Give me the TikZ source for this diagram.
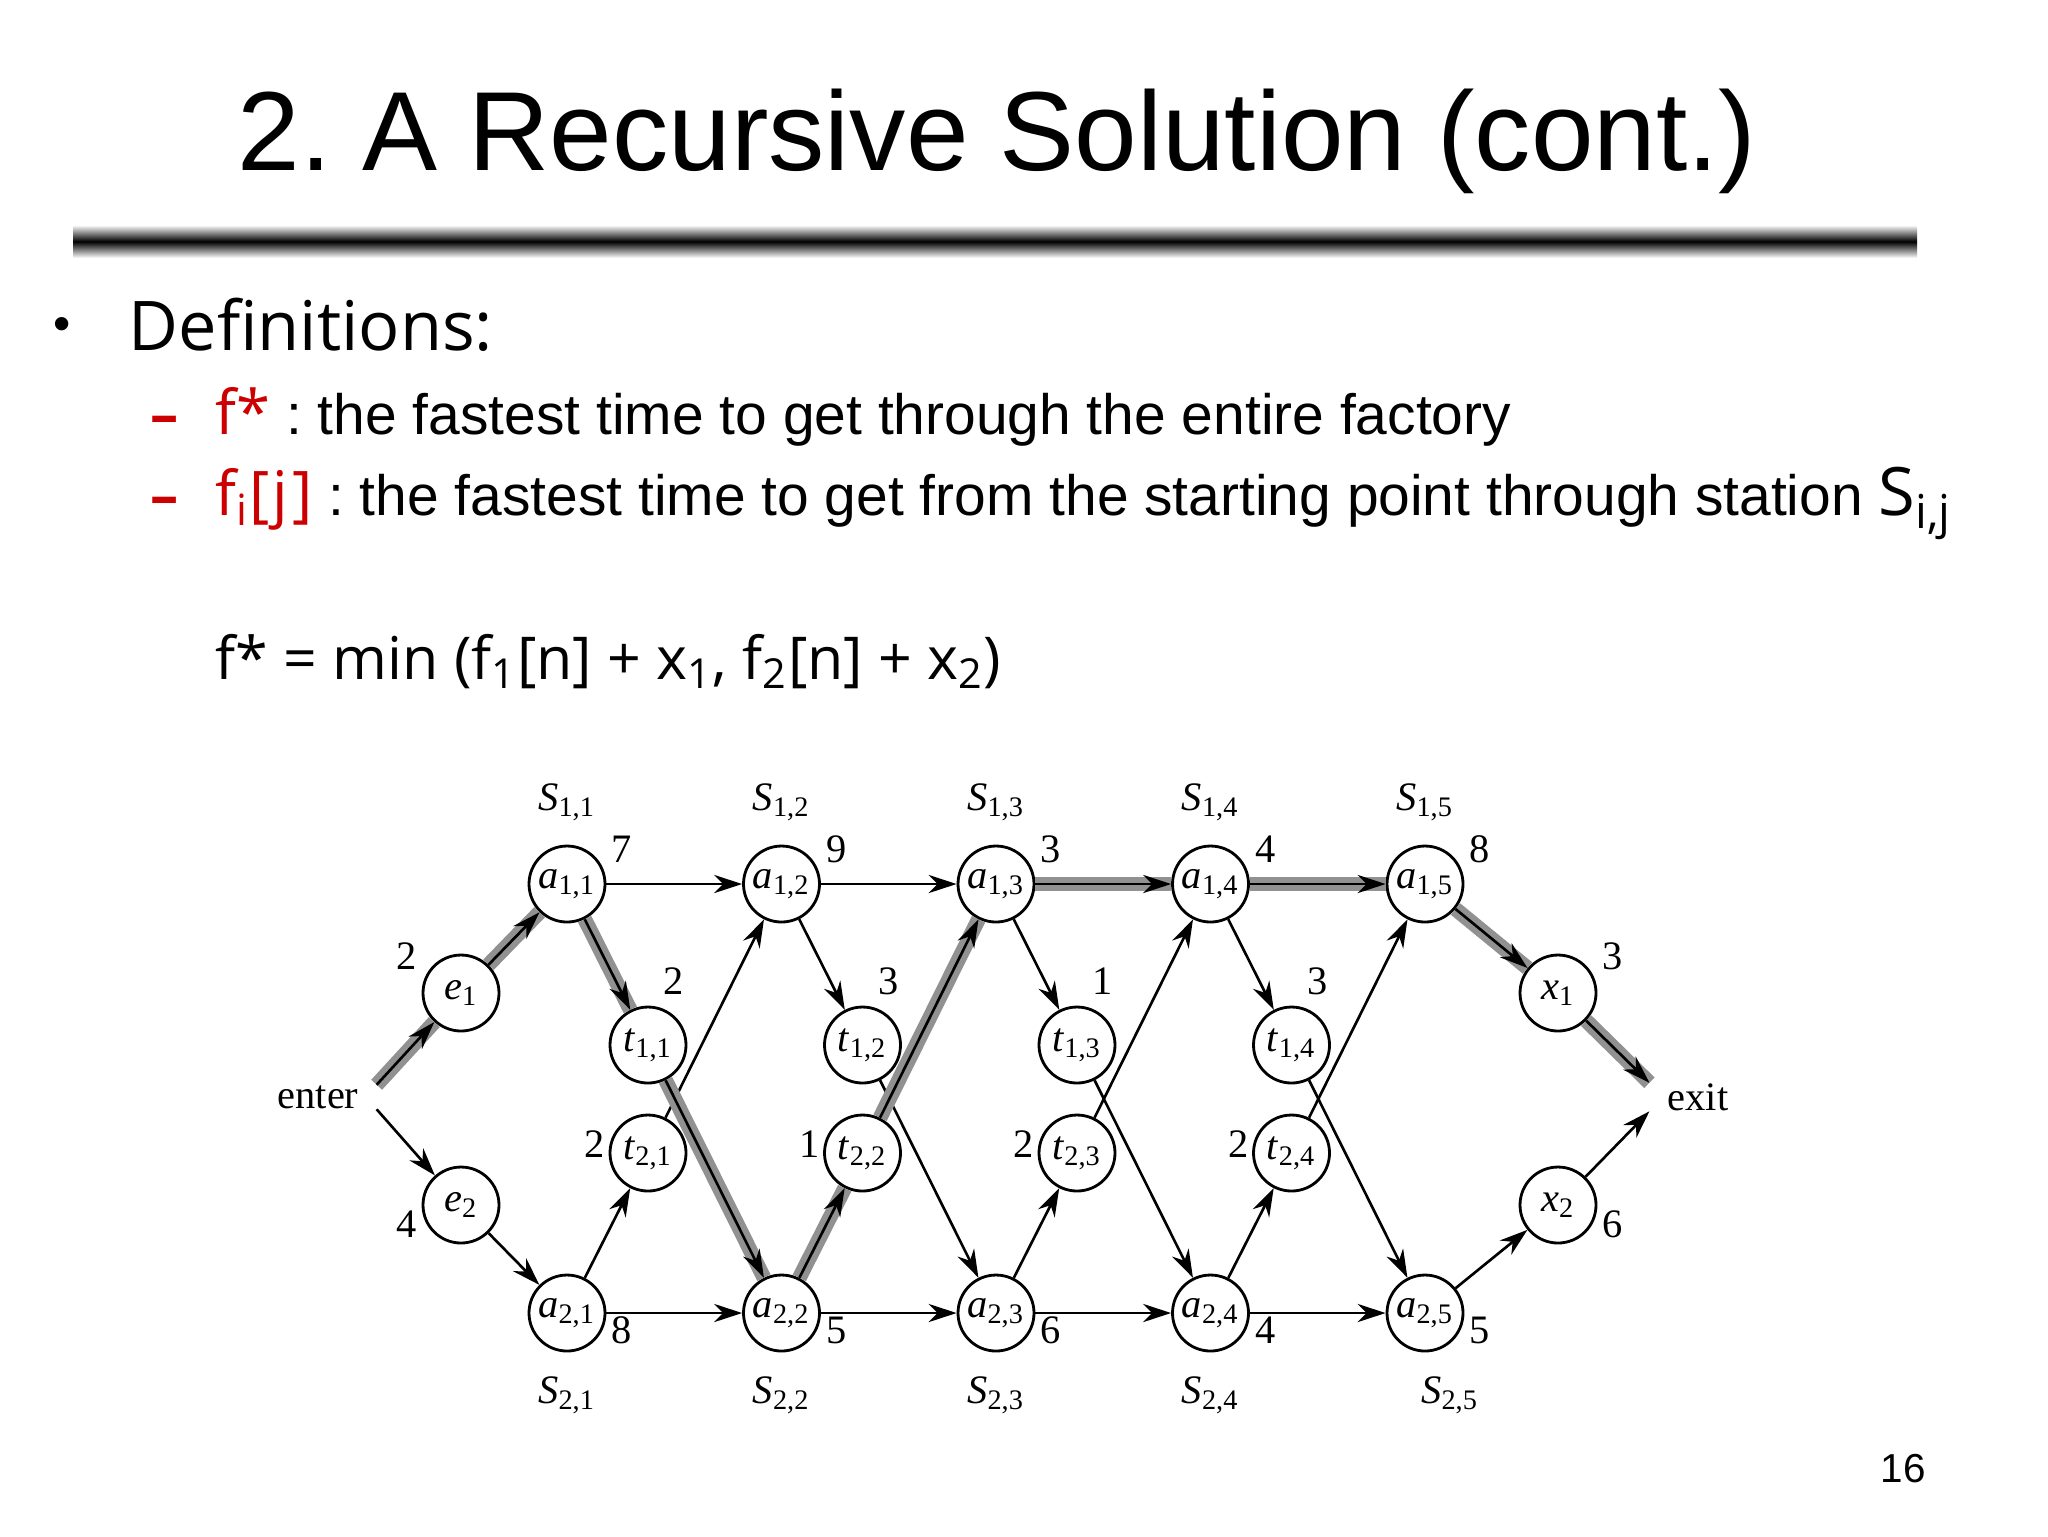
\documentclass[tikz,border=0pt]{standalone}
\usepackage{fontspec}
\setmainfont{Liberation Sans}
\newfontfamily\comic{Open Sans}
\newfontfamily\diafont{Liberation Serif}
\usetikzlibrary{arrows.meta}
\definecolor{defred}{RGB}{204,0,0}
\definecolor{pathgray}{RGB}{145,145,145}
\newcommand{\lab}[2]{\textit{#1}\textsubscript{#2}}
\frenchspacing
\tikzset{txt/.style={inner sep=0pt, anchor=base west},
         station/.style={circle, draw, line width=0.8pt, fill=white,
                         minimum size=7.6mm, inner sep=0pt,
                         font=\diafont\fontsize{11.5}{13}\selectfont},
         lbl/.style={inner sep=0pt, font=\diafont\fontsize{11.5}{13}\selectfont},
         cost/.style={lbl},
         arr/.style={-{Stealth[length=8pt,width=5.2pt,inset=2.6pt]}, line width=0.75pt},
         fast/.style={arr, preaction={draw=pathgray, line width=4.2pt, arrows=-}}}

\begin{document}
\begin{tikzpicture}[x=0.1mm,y=-0.1mm]
\useasboundingbox (0,0) rectangle (2048,1536);
\fill[white] (0,0) rectangle (2048,1536);
% Titel und Balken
\node[anchor=base, inner sep=0pt, font=\fontsize{32}{38}\selectfont] (title) at (997,170)
  {2. A Recursive Solution (cont.)};
\shade[top color=white, bottom color=white, middle color=black] (73,225) rectangle (1917,258);
% Definitionen
\node[anchor=base, inner sep=0pt, font=\fontsize{14}{16}\selectfont] (bullet) at (62,340) {•};
\node[txt, font=\comic\fontsize{19.5}{24}\selectfont] (defs) at (128,350) {Definitions:};
\node[txt, text=defred, font=\comic\bfseries\fontsize{16}{20}\selectfont] (dash1) at (150,434) {–};
\node[txt, font=\fontsize{16.2}{20}\selectfont] (def1) at (215,434)
  {{\comic\fontsize{17.5}{20}\selectfont\color{defred}f*} : the fastest time to get through the entire factory};
\node[txt, text=defred, font=\comic\bfseries\fontsize{16}{20}\selectfont] (dash2) at (150,515) {–};
\node[txt, font=\fontsize{16.2}{20}\selectfont] (def2) at (215,515)
  {{\comic\fontsize{17.5}{20}\selectfont\color{defred}f\textsubscript{i}[\kern1pt j\kern1pt]} : the fastest time to get from the starting point through station {\comic\fontsize{19}{20}\selectfont S\textsubscript{i,j}}};
\node[txt, font=\comic\fontsize{16.8}{22}\selectfont] (fstar) at (215,679)
  {f* = min (f\textsubscript{1}[n] + x\textsubscript{1}, f\textsubscript{2}[n] + x\textsubscript{2})};
\node[anchor=base, inner sep=0pt, font=\fontsize{11.5}{14}\selectfont] (pageno) at (1903,1482) {16};
% Die Fabrik:
\node[lbl, inner xsep=5pt] (enter) at (318,1097) {enter};
\node[lbl, inner xsep=5pt] (exit) at (1698,1097) {exit};
\node[station] (e1) at (461,993) {\lab{e}{1}};
\node[station] (e2) at (461,1205) {\lab{e}{2}};
\node[station] (x1) at (1558,993) {\lab{x}{1}};
\node[station] (x2) at (1558,1205) {\lab{x}{2}};
\node[cost] at ([shift={(-54,-37)}]e1.center) {2};
\node[cost] at ([shift={(-54,19)}]e2.center) {4};
\node[cost] at ([shift={(55,-37)}]x1.center) {3};
\node[cost] at ([shift={(55,19)}]x2.center) {6};
\foreach \j/\c/\d in {1/7/8,2/9/5,3/3/6,4/4/4,5/8/5} {
  \node[station] (a1\j) at ({567+214.5*(\j-1)},884) {\lab{a}{1,\j}};
  \node[station] (a2\j) at ({567+214.5*(\j-1)},1313) {\lab{a}{2,\j}};
  \node[cost] at ([shift={(55,-35)}]a1\j.center) {\c};
  \node[cost] at ([shift={(55,17)}]a2\j.center) {\d};
}
\foreach \j/\xs in {1/567,2/781.5,3/996,4/1210.5,5/1450} {
  \node[lbl] (s1\j) at ({567+214.5*(\j-1)},802) {\lab{S}{1,\j}};
  \node[lbl] (s2\j) at (\xs,1395) {\lab{S}{2,\j}};
}
\foreach \j/\c/\d in {1/2/2,2/3/1,3/1/2,4/3/2} {
  \node[station] (t1\j) at ({648+214.5*(\j-1)},1045) {\lab{t}{1,\j}};
  \node[station] (t2\j) at ({648+214.5*(\j-1)},1153) {\lab{t}{2,\j}};
  \node[cost] at ([shift={(26,-64)}]t1\j.center) {\c};
  \node[cost] at ([shift={(-53,-9)}]t2\j.center) {\d};
}
% normale Wege
\draw[arr] (enter.south east) -- (e2);
\draw[arr] (x2) -- (exit.south west);
\foreach \u/\v in {e2/a21, a11/a12, a12/a13, a21/a22, a22/a23, a23/a24, a24/a25,
                   a21/t21, t21/a12, a12/t12, t12/a23, a13/t13, t13/a24,
                   a23/t23, t23/a14, a14/t14, t14/a25, a24/t24, t24/a15, a25/x2}
  \draw[arr] (\u) -- (\v);
% schnellster Weg
\draw[fast] (enter.north east) -- (e1);
\draw[fast] (x1) -- (exit.north west);
\foreach \u/\v in {e1/a11, a11/t11, t11/a22, a22/t22, t22/a13, a13/a14, a14/a15, a15/x1}
  \draw[fast] (\u) -- (\v);
\end{tikzpicture}
\end{document}
